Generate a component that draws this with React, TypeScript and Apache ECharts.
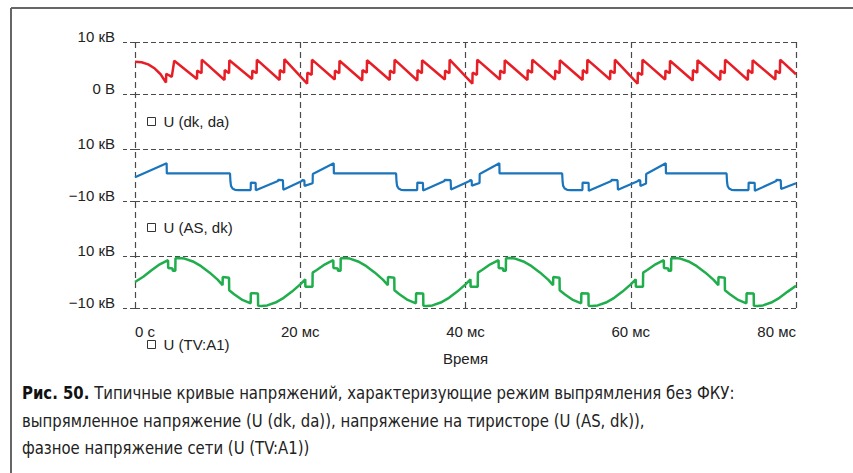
import React, { useEffect, useRef } from 'react';
import * as echarts from 'echarts';

// ---- tick labels ----
const xTickValues = [0, 20, 40, 60, 80];
const xTickLabels = ['0 с', '20 мс', '40 мс', '60 мс', '80 мс'];
const y1TickValues = [0, 10];
const y1TickLabels = ['0 В', '10 кВ'];
const y23TickValues = [-10, 10];
const y23TickLabels = ['\u221210 кВ', '10 кВ'];

const seriesNames = ['U (dk, da)', 'U (AS, dk)', 'U (TV:A1)'];

// ---- rectified voltage U (dk, da): [time ms, kV] ----
const uDkDa: number[][] = [
  [0, 6.2], [0.8, 6.1], [1.6, 5.7], [2.4, 4.9], [3.1, 3.8], [3.75, 2.2], [3.78, 3.9], [4.45, 3.3],
  [4.75, 6.4], [7.5, 2.9], [7.53, 4.5], [8.05, 4.0],
  [8.08, 6.6], [10.83, 2.7], [10.86, 4.6], [11.38, 4.0],
  [11.42, 6.5], [14.17, 2.9], [14.2, 4.5], [14.72, 4.0],
  [14.75, 6.6], [17.5, 2.7], [17.53, 4.6], [18.05, 4.1],
  [18.08, 6.7], [20.83, 2.0], [20.86, 4.1], [21.38, 3.7],
  [21.42, 6.6], [24.17, 2.8], [24.2, 4.5], [24.72, 4.0],
  [24.75, 6.4], [27.5, 2.6], [27.53, 4.6], [28.05, 4.1],
  [28.08, 6.5], [30.83, 2.7], [30.86, 4.5], [31.38, 4.0],
  [31.42, 6.6], [34.17, 2.6], [34.2, 4.6], [34.72, 4.0],
  [34.75, 6.5], [37.5, 2.8], [37.53, 4.5], [38.05, 4.0],
  [38.08, 6.6], [40.83, 2.0], [40.86, 4.1], [41.38, 3.7],
  [41.42, 6.6], [44.17, 2.8], [44.2, 4.5], [44.72, 4.0],
  [44.75, 6.5], [47.5, 2.7], [47.53, 4.6], [48.05, 4.1],
  [48.08, 6.6], [50.83, 2.8], [50.86, 4.5], [51.38, 4.0],
  [51.42, 6.5], [54.17, 2.7], [54.2, 4.6], [54.72, 4.0],
  [54.75, 6.6], [57.5, 2.8], [57.53, 4.5], [58.05, 4.0],
  [58.08, 6.6], [60.83, 2.0], [60.86, 4.1], [61.38, 3.7],
  [61.42, 6.6], [64.17, 2.8], [64.2, 4.5], [64.72, 4.0],
  [64.75, 6.4], [67.5, 2.6], [67.53, 4.6], [68.05, 4.1],
  [68.08, 6.5], [70.83, 2.7], [70.86, 4.5], [71.38, 4.0],
  [71.42, 6.6], [74.17, 2.7], [74.2, 4.6], [74.72, 4.0],
  [74.75, 6.5], [77.5, 2.8], [77.53, 4.5], [78.05, 4.0],
  [78.08, 6.6], [80, 3.8],
];

// ---- thyristor voltage U (AS, dk): [time ms, kV] ----
const uAsDk: number[][] = [
  [0, -0.9], [3.83, 4.5], [3.85, 0.6], [11.5, 0.6], [11.55, -2.5], [11.62, -4.2], [11.8, -5.2], [12.1, -5.7], [12.5, -5.8],
  [14.0, -5.8], [14.02, -2.9], [14.6, -3.0], [14.62, -5.9], [17.3, -2.3], [17.32, -1.9], [17.9, -2.0], [17.95, -5.7],
  [20.2, -2.3], [20.22, -2.0], [20.5, -2.1], [20.52, -4.2], [21.5, -3.2], [21.52, 0.4], [24.05, 4.5], [24.07, 0.6],
  [31.6, 0.6], [31.65, -2.5], [31.72, -4.2], [31.9, -5.2], [32.2, -5.7], [32.6, -5.8],
  [34.15, -5.8], [34.17, -2.9], [34.85, -3.0], [34.87, -6.0], [37.45, -2.3], [37.47, -1.9], [38.2, -2.0], [38.25, -5.6],
  [40.5, -2.3], [40.52, -2.0], [40.75, -2.1], [40.77, -4.1], [41.7, -3.1], [41.72, 0.4], [44.1, 4.5], [44.12, 0.6],
  [51.7, 0.6], [51.75, -2.5], [51.82, -4.2], [52.0, -5.2], [52.3, -5.7], [52.7, -5.8],
  [54.15, -5.8], [54.17, -2.9], [54.9, -3.0], [54.92, -6.1], [57.65, -2.3], [57.67, -1.9], [58.4, -2.0], [58.45, -5.7],
  [60.9, -2.3], [60.92, -2.0], [61.15, -2.1], [61.17, -4.2], [61.85, -3.3], [61.87, 0.4], [64.24, 4.5], [64.26, 0.6],
  [71.6, 0.6], [71.65, -2.5], [71.72, -4.2], [71.9, -5.2], [72.2, -5.7], [72.6, -5.8],
  [74.25, -5.8], [74.27, -2.9], [75.0, -3.0], [75.02, -6.1], [77.6, -2.3], [77.62, -1.9], [78.15, -2.0], [78.2, -5.4],
  [80, -3.2],
];

// ---- phase voltage U (TV:A1): [time ms, kV] ----
const uTvA1: number[][] = [
  [0, 0.0], [1, 2.0], [2, 4.5], [3, 6.8], [4.0, 8.4], [4.02, 5.4], [4.55, 5.2], [4.57, 4.3], [4.88, 4.3], [4.9, 9.1],
  [5.3, 9.2], [6, 9.0], [7, 7.9], [8, 6.1], [9, 3.7], [10, 0.9], [10.6, -1.2], [10.62, 1.9], [11.38, 1.6], [11.4, -3.2],
  [12, -4.7], [13, -6.9], [14.0, -8.2], [14.02, -4.3], [14.88, -4.4], [14.9, -9.1], [15.3, -9.2], [16, -9.0], [17, -7.9],
  [18, -6.1], [19, -3.7], [20, -0.9],
  [20.6, 1.0], [20.62, -1.8], [21.48, -1.8], [21.5, 3.6], [22, 4.6], [23, 6.8], [24.0, 8.4], [24.02, 5.4], [24.55, 5.2],
  [24.57, 4.3], [24.88, 4.3], [24.9, 9.1], [25.3, 9.2], [26, 9.0], [27, 7.9], [28, 6.1], [29, 3.7], [30, 0.9],
  [30.6, -1.2], [30.62, 1.9], [31.38, 1.6], [31.4, -3.2], [32, -4.7], [33, -6.9], [34.0, -8.2], [34.02, -4.3],
  [34.88, -4.4], [34.9, -9.1], [35.3, -9.2], [36, -9.0], [37, -7.9], [38, -6.1], [39, -3.7], [40, -0.9],
  [40.6, 1.0], [40.62, -1.8], [41.48, -1.8], [41.5, 3.6], [42, 4.6], [43, 6.8], [44.0, 8.4], [44.02, 5.4], [44.55, 5.2],
  [44.57, 4.3], [44.88, 4.3], [44.9, 9.1], [45.3, 9.2], [46, 9.0], [47, 7.9], [48, 6.1], [49, 3.7], [50, 0.9],
  [50.6, -1.2], [50.62, 1.9], [51.38, 1.6], [51.4, -3.2], [52, -4.7], [53, -6.9], [54.0, -8.2], [54.02, -4.3],
  [54.88, -4.4], [54.9, -9.1], [55.3, -9.2], [56, -9.0], [57, -7.9], [58, -6.1], [59, -3.7], [60, -0.9],
  [60.6, 1.0], [60.62, -1.8], [61.48, -1.8], [61.5, 3.6], [62, 4.6], [63, 6.8], [64.0, 8.4], [64.02, 5.4], [64.55, 5.2],
  [64.57, 4.3], [64.88, 4.3], [64.9, 9.1], [65.3, 9.2], [66, 9.0], [67, 7.9], [68, 6.1], [69, 3.7], [70, 0.9],
  [70.6, -1.2], [70.62, 1.9], [71.38, 1.6], [71.4, -3.2], [72, -4.7], [73, -6.9], [74.0, -8.2], [74.02, -4.3],
  [74.88, -4.4], [74.9, -9.1], [75.3, -9.2], [76, -9.0], [77, -7.9], [78, -6.1], [79, -3.7], [80, -1.4],
];

const captionLines = [
  'Типичные кривые напряжений, характеризующие режим выпрямления без ФКУ:',
  'выпрямленное напряжение (U (dk, da)), напряжение на тиристоре (U (AS, dk)),',
  'фазное напряжение сети (U (TV:A1))',
];
const captionLabel = 'Рис. 50.';

const FONT = "'Liberation Sans', Arial, sans-serif";
const CAP_FONT = "'Liberation Sans Narrow', 'DejaVu Sans Condensed', 'Liberation Sans', sans-serif";
const TXT = '#222';
const DASH = { color: '#4a4a4a', width: 1.2, type: [5, 3] as number[] };
const VDASH = { color: '#4a4a4a', width: 1.2, type: [6, 4] as number[] };

function yAxis(gridIndex: number, min: number, max: number, vals: number[], labels: string[]) {
  return {
    type: 'value',
    gridIndex,
    min,
    max,
    interval: max - min,
    axisLine: { show: false },
    axisTick: { show: true, length: 12, lineStyle: DASH },
    splitLine: { show: true, lineStyle: DASH },
    axisLabel: {
      margin: 20,
      color: TXT,
      fontSize: 15,
      fontFamily: FONT,
      verticalAlign: 'bottom',
      lineHeight: 12,
      formatter: (v: number) => {
        const i = vals.indexOf(v);
        return i >= 0 ? labels[i] : '';
      },
    },
  };
}

function hiddenX(gridIndex: number) {
  return { type: 'value', gridIndex, min: 0, max: 80, show: false };
}

function legendFor(name: string, top: number) {
  return {
    data: [name],
    left: 147,
    top,
    padding: 0,
    icon: 'rect',
    itemWidth: 8,
    itemHeight: 8,
    selectedMode: false,
    itemStyle: { color: '#fff', borderColor: '#333', borderWidth: 1 },
    lineStyle: { width: 0 },
    textStyle: { fontSize: 15, color: TXT, fontFamily: FONT, padding: [0, 0, 0, 3] },
  };
}

export default function App() {
  const ref = useRef<HTMLDivElement>(null);
  useEffect(() => {
    document.body.style.margin = '0';
    if (!ref.current) return;
    const chart = echarts.init(ref.current, undefined, { renderer: 'svg' });
    const gridL = 135;
    const gridR = 57;
    chart.setOption({
      animation: false,
      backgroundColor: '#fff',
      textStyle: { fontFamily: FONT },
      grid: [
        { left: gridL, right: gridR, top: 42, height: 52 },
        { left: gridL, right: gridR, top: 149, height: 52 },
        { left: gridL, right: gridR, top: 256, height: 52 },
        { left: gridL, right: gridR, top: 42, height: 266 },
      ],
      xAxis: [
        hiddenX(0),
        hiddenX(1),
        hiddenX(2),
        {
          type: 'value',
          gridIndex: 3,
          min: 0,
          max: 80,
          interval: 20,
          axisLine: { show: false },
          axisTick: { show: false },
          splitLine: { show: true, lineStyle: VDASH },
          axisLabel: {
            margin: 16,
            color: TXT,
            fontSize: 15,
            fontFamily: FONT,
            alignMinLabel: 'left',
            alignMaxLabel: 'right',
            formatter: (v: number) => {
              const i = xTickValues.indexOf(v);
              return i >= 0 ? xTickLabels[i] : '';
            },
          },
          name: 'Время',
          nameLocation: 'middle',
          nameGap: 43,
          nameTextStyle: { color: TXT, fontSize: 15, fontFamily: FONT },
        },
      ],
      yAxis: [
        yAxis(0, 0, 10, y1TickValues, y1TickLabels),
        yAxis(1, -10, 10, y23TickValues, y23TickLabels),
        yAxis(2, -10, 10, y23TickValues, y23TickLabels),
        { type: 'value', gridIndex: 3, min: 0, max: 1, show: false },
      ],
      legend: [
        legendFor(seriesNames[0], 114),
        legendFor(seriesNames[1], 220),
        legendFor(seriesNames[2], 337),
      ],
      series: [
        {
          name: seriesNames[0], type: 'line', xAxisIndex: 0, yAxisIndex: 0, data: uDkDa,
          showSymbol: false, symbol: 'none', color: '#e81e26', lineStyle: { width: 2.5, color: '#e81e26' },
        },
        {
          name: seriesNames[1], type: 'line', xAxisIndex: 1, yAxisIndex: 1, data: uAsDk,
          showSymbol: false, symbol: 'none', color: '#1a75bc', lineStyle: { width: 2.2, color: '#1a75bc' },
        },
        {
          name: seriesNames[2], type: 'line', xAxisIndex: 2, yAxisIndex: 2, data: uTvA1,
          showSymbol: false, symbol: 'none', color: '#1fae4b', lineStyle: { width: 2.5, color: '#1fae4b' },
        },
      ],
      graphic: [
        { type: 'line', shape: { x1: 11, y1: 8, x2: 853, y2: 8 }, style: { stroke: '#666', lineWidth: 2 } },
        { type: 'line', shape: { x1: 11, y1: 8, x2: 11, y2: 473 }, style: { stroke: '#666', lineWidth: 2 } },
        {
          type: 'text', x: 22, y: 393, scaleX: 0.975,
          style: {
            text: '{b|' + captionLabel + '} ' + captionLines[0],
            fontSize: 17, fontFamily: CAP_FONT, fill: TXT, verticalAlign: 'middle',
            rich: { b: { fontSize: 17, fontFamily: CAP_FONT, fontWeight: 'bold', fill: '#111' } },
          },
        },
        {
          type: 'text', x: 22, y: 421, scaleX: 0.975,
          style: { text: captionLines[1], fontSize: 17, fontFamily: CAP_FONT, fill: TXT, verticalAlign: 'middle' },
        },
        {
          type: 'text', x: 22, y: 448, scaleX: 0.975,
          style: { text: captionLines[2], fontSize: 17, fontFamily: CAP_FONT, fill: TXT, verticalAlign: 'middle' },
        },
      ],
    });
    return () => chart.dispose();
  }, []);
  return <div ref={ref} style={{ width: 853, height: 473 }} />;
}
